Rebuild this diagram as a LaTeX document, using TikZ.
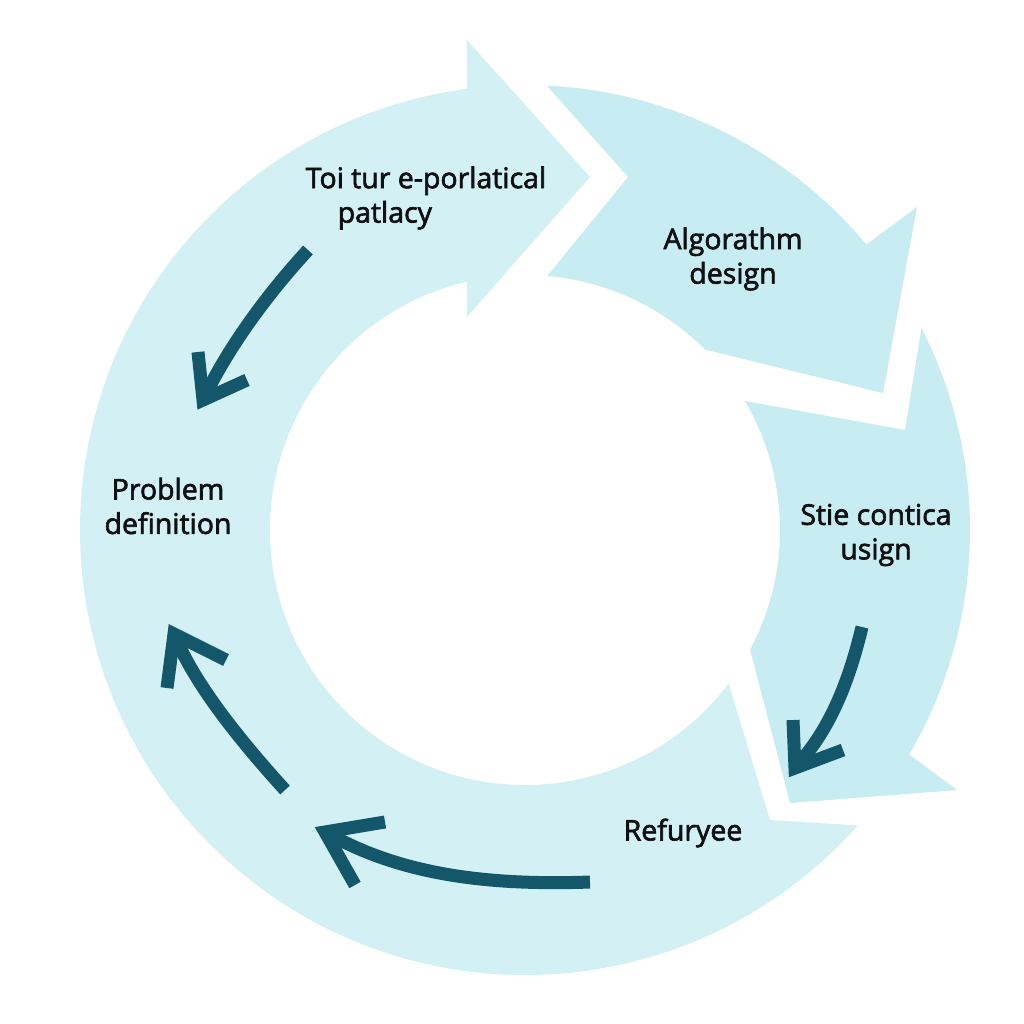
\documentclass[tikz,border=0pt]{standalone}
\usepackage{fontspec}
\setmainfont{Open Sans}
\newfontfamily\labfont{Open Sans}[FakeBold=2.2]
\definecolor{segA}{RGB}{211,241,245}
\definecolor{segB}{RGB}{199,236,241}
\definecolor{arrowc}{RGB}{20,86,106}
\definecolor{txt}{RGB}{14,16,18}
\begin{document}
\begin{tikzpicture}[x=0.01cm,y=-0.01cm,
  cyc/.style={draw=arrowc, line width=3.7pt, shorten >=3pt},
  hd/.style={draw=arrowc, line width=3.7pt, miter limit=10},
  lab/.style={text=txt, font=\labfont\fontsize{8.1}{9.8}\selectfont, align=center, inner sep=0pt}]
\useasboundingbox[fill=white] (0,0) rectangle (1024,1024);
\coordinate (C) at (525,530);
% big segment (bottom, left, top arrow)
\fill[segA] ([shift={(41.6:445)}]C) arc[start angle=41.6,end angle=262.5,radius=445]
  -- (467,40) -- (590,177) -- (467,317)
  -- ([shift={(256.8:255)}]C) arc[start angle=256.8,end angle=37,radius=255]
  -- (770,820) -- cycle;
% top-right segment
\fill[segB] ([shift={(-87.2:445)}]C) arc[start angle=-87.2,end angle=-39.9,radius=445]
  -- (917,207) -- (883,393)
  -- ([shift={(-45:255)}]C) arc[start angle=-45,end angle=-85,radius=255]
  -- (628,177) -- cycle;
% right segment
\fill[segB] ([shift={(-27:445)}]C) arc[start angle=-27,end angle=30.3,radius=445]
  -- (957,790) -- (790,803)
  -- ([shift={(28:255)}]C) arc[start angle=28,end angle=-30.4,radius=255]
  -- (905,430) -- cycle;
% labels
\node[lab, align=left, anchor=west] (toi) at (305,198) {Toi tur e-porlatical\\\hspace*{9.1pt}patlacy};
\node[lab] (alg) at (733,259) {Algorathm\\design};
\node[lab] (prob) at (168,506) {Problem\\definition};
\node[lab] (stie) at (876,535) {Stie contica\\usign};
\node[lab] (ref) at (683,833) {Refuryee};
% curved arrows
\coordinate (a1s) at (308,250); \coordinate (a1t) at (203,400);
\draw[cyc] (a1s) .. controls (262,300) and (228,350) .. (a1t);
\draw[hd] (198,352) -- (a1t) -- (247,380);
\coordinate (a2s) at (285,790); \coordinate (a2t) at (174,634);
\draw[cyc] (a2s) .. controls (235,735) and (197,685) .. (a2t);
\draw[hd] (167,688) -- (a2t) -- (226,660);
\coordinate (a3s) at (590,882); \coordinate (a3t) at (325,832);
\draw[cyc] (a3s) .. controls (480,886) and (400,872) .. (a3t);
\draw[hd] (385,822) -- (a3t) -- (355,885);
\coordinate (a4s) at (862,627); \coordinate (a4t) at (795,768);
\draw[cyc] (a4s) .. controls (847,690) and (827,730) .. (a4t);
\draw[hd] (793,720) -- (a4t) -- (843,750);
\end{tikzpicture}
\end{document}
